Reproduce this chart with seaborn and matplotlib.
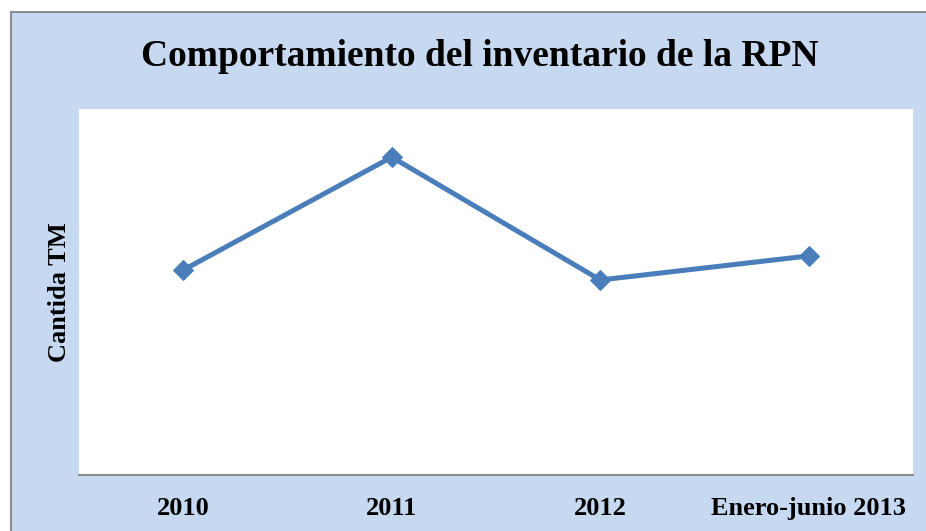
import matplotlib.pyplot as plt
import matplotlib.patches as mpatches
import seaborn as sns
import pandas as pd

# datos (eje Y sin etiquetas, valores estimados)
periodos = ['2010', '2011', '2012', 'Enero-junio 2013']
cantidad_tm = [1960, 3040, 1865, 2095]

df = pd.DataFrame({'periodo': periodos, 'cantidad': cantidad_tm})

sns.set_style('white')
plt.rcParams['font.family'] = ['Liberation Serif', 'DejaVu Serif']
plt.rcParams['text.color'] = 'black'
plt.rcParams['axes.labelcolor'] = 'black'
plt.rcParams['xtick.color'] = 'black'

fig = plt.figure(figsize=(9.26, 5.31), dpi=100)
fig.patch.set_facecolor('white')

# fondo azul del grafico con borde gris
fondo = mpatches.Rectangle((11 / 926, -0.01), 1.0, 1 - 12 / 531 + 0.01,
                           transform=fig.transFigure, facecolor='#C6D9F0',
                           edgecolor='#8C8C8C', linewidth=1.5, zorder=-5)
fig.patches.append(fondo)

ax = fig.add_axes([79 / 926, 56 / 531, 834 / 926, 366 / 531])
ax.set_facecolor('white')

sns.lineplot(data=df, x='periodo', y='cantidad', ax=ax, color='#4A7EBB',
             linewidth=3.6, marker='D', markersize=10.5,
             markeredgecolor='#4A7EBB', sort=False)

ax.set_xlim(-0.5, 3.5)
ax.set_ylim(0, 3500)
ax.set_yticks([])
ax.tick_params(axis='x', length=0, pad=16)
for lbl in ax.get_xticklabels():
    lbl.set_fontweight('bold')
    lbl.set_fontsize(19)

for s in ['top', 'left', 'right']:
    ax.spines[s].set_visible(False)
ax.spines['bottom'].set_color('#8C8C8C')
ax.spines['bottom'].set_linewidth(1.5)

ax.set_xlabel('')
ax.set_ylabel('Cantida TM', fontsize=19, fontweight='bold')
ax.yaxis.set_label_coords(-0.01, 0.5)

fig.text(0.518, 0.893, 'Comportamiento del inventario de la RPN',
         ha='center', va='center', fontsize=27, fontweight='bold')

fig.savefig('out.png', dpi=100)
